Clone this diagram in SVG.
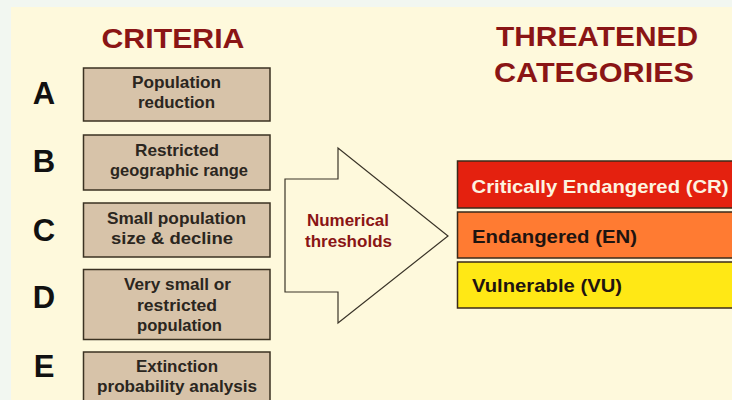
<svg xmlns="http://www.w3.org/2000/svg" width="732" height="400" viewBox="0 0 732 400">
<style>
.bg{fill:#f2f7f1}
.panel{fill:#fef9dc}
.crit rect{fill:#d7c3a9;stroke:#3b3222;stroke-width:1.5}
.crit text{font-family:"Liberation Sans",Arial,sans-serif;font-weight:bold;font-size:16.5px;fill:#2b2620;text-anchor:middle}
.letter{font-family:"Liberation Sans",Arial,sans-serif;font-weight:bold;font-size:31px;fill:#111;text-anchor:middle}
.title{font-family:"Liberation Sans",Arial,sans-serif;font-weight:bold;font-size:28px;fill:#8a1515;text-anchor:middle}
.cat rect{stroke:#3b2a1a;stroke-width:1.5}
.cat text{font-family:"Liberation Sans",Arial,sans-serif;font-weight:bold;font-size:19px}
.arrow{fill:#fef9dc;stroke:#3a3428;stroke-width:1.2}
.thr{font-family:"Liberation Sans",Arial,sans-serif;font-weight:bold;font-size:16px;fill:#8a1515;text-anchor:middle}
</style>
<rect class="bg" x="0" y="0" width="732" height="400"/>
<rect class="panel" x="11" y="7" width="721" height="393"/>
<text class="title" x="173" y="48" textLength="143" lengthAdjust="spacingAndGlyphs">CRITERIA</text>
<text class="title" x="597" y="46" textLength="202" lengthAdjust="spacingAndGlyphs">THREATENED</text>
<text class="title" x="594" y="82" textLength="200" lengthAdjust="spacingAndGlyphs">CATEGORIES</text>
<text class="letter" x="44" y="104">A</text>
<text class="letter" x="44" y="172">B</text>
<text class="letter" x="44" y="241">C</text>
<text class="letter" x="44" y="308">D</text>
<text class="letter" x="44" y="377">E</text>
<g id="crit-a" class="crit"><rect x="83.5" y="68" width="186.5" height="53"/><text x="176.5" y="88" textLength="89" lengthAdjust="spacingAndGlyphs">Population</text><text x="176.5" y="108" textLength="77" lengthAdjust="spacingAndGlyphs">reduction</text></g>
<g id="crit-b" class="crit"><rect x="83.5" y="135" width="186.5" height="55"/><text x="177" y="156" textLength="84" lengthAdjust="spacingAndGlyphs">Restricted</text><text x="179" y="176" textLength="138" lengthAdjust="spacingAndGlyphs">geographic range</text></g>
<g id="crit-c" class="crit"><rect x="83.5" y="203" width="186.5" height="54"/><text x="176.5" y="224" textLength="139" lengthAdjust="spacingAndGlyphs">Small population</text><text x="172" y="244" textLength="122" lengthAdjust="spacingAndGlyphs">size &amp; decline</text></g>
<g id="crit-d" class="crit"><rect x="83.5" y="269.5" width="186.5" height="70"/><text x="177.5" y="290" textLength="107" lengthAdjust="spacingAndGlyphs">Very small or</text><text x="177" y="311" textLength="80" lengthAdjust="spacingAndGlyphs">restricted</text><text x="179.5" y="331" textLength="85" lengthAdjust="spacingAndGlyphs">population</text></g>
<g id="crit-e" class="crit"><rect x="83.5" y="352" width="186.5" height="60"/><text x="177" y="372" textLength="82" lengthAdjust="spacingAndGlyphs">Extinction</text><text x="177" y="392" textLength="160" lengthAdjust="spacingAndGlyphs">probability analysis</text></g>
<g id="connectors">
<polygon id="arrow" class="arrow" points="285,179 338,179 338,148 448,236 338,323 338,292 285,292"/>
</g>
<text class="thr" x="348" y="226" textLength="82" lengthAdjust="spacingAndGlyphs">Numerical</text>
<text class="thr" x="348.5" y="247" textLength="87" lengthAdjust="spacingAndGlyphs">thresholds</text>
<g id="cat-cr" class="cat"><rect x="457.5" y="161" width="290" height="47" fill="#e4210f"/><text x="471.5" y="193" fill="#fdf3e0" textLength="257" lengthAdjust="spacingAndGlyphs">Critically Endangered (CR)</text></g>
<g id="cat-en" class="cat"><rect x="457.5" y="212" width="290" height="46" fill="#ff7b32"/><text x="472" y="243" fill="#1e1410" textLength="165" lengthAdjust="spacingAndGlyphs">Endangered (EN)</text></g>
<g id="cat-vu" class="cat"><rect x="457.5" y="262" width="290" height="46" fill="#ffe815"/><text x="472" y="292" fill="#1e1410" textLength="150" lengthAdjust="spacingAndGlyphs">Vulnerable (VU)</text></g>
</svg>
